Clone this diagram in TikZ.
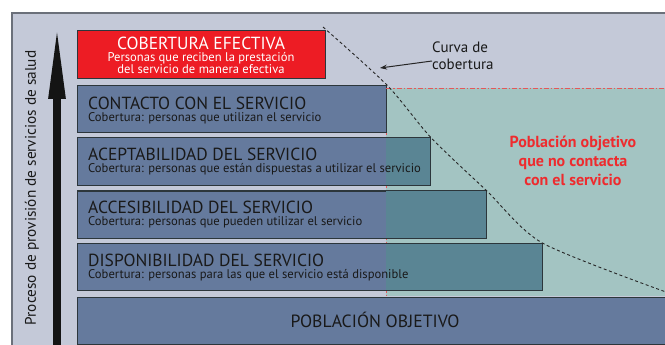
\documentclass[tikz,border=0pt]{standalone}
\usepackage{fontspec}
\setmainfont{PT Sans}
\usetikzlibrary{arrows.meta,calc}
\definecolor{bgc}{HTML}{C4C9D8}
\definecolor{boxblue}{HTML}{657A9D}
\definecolor{tealbg}{HTML}{A3C4C2}
\definecolor{tealdark}{HTML}{5A8594}
\definecolor{effred}{HTML}{ED1C24}
\definecolor{edge}{HTML}{2C363B}
\definecolor{redline}{HTML}{E5575A}
\definecolor{redtext}{HTML}{EE2B2E}
\definecolor{framec}{HTML}{6B707A}
\newcommand{\hfnt}{\fontsize{17.5}{19}\selectfont}
\newcommand{\sfnt}{\fontsize{12.6}{12}\selectfont}
\tikzset{
  stagebox/.style={draw=edge, line width=0.9pt, fill=boxblue, anchor=north west, inner sep=0pt, minimum height=47pt},
  boxtxt/.style={anchor=north west, inner sep=0pt, align=left, text=black!90},
  reddash/.style={draw=redline, line width=0.8pt, dash pattern=on 5pt off 2pt on 1.5pt off 2pt},
  curvestyle/.style={draw=black!85, line width=0.9pt, dash pattern=on 3pt off 2.6pt},
}
\begin{document}
\begin{tikzpicture}[x=1pt,y=-1pt]
\useasboundingbox (0,0) rectangle (665,345);
% frame
\fill[white] (0,0) rectangle (665,345);
\path[fill=bgc, draw=framec, line width=1.3pt] (12,13) rectangle (670,350);
% teal region
\fill[tealbg] (386,88) rectangle (666,296);
% red boundary lines
\coordinate (rl1) at (386,88);
\coordinate (rl2) at (666,88);
\coordinate (rl3) at (386,296);
\draw[reddash] (rl1) -- (rl3);
% boxes
\node[stagebox, fill=effred, minimum width=248pt, minimum height=48pt] (eff) at (77,30) {};
\node[stagebox, minimum width=309pt] (contact) at (77,85) {};
\node[stagebox, minimum width=353pt] (accept) at (77,137.5) {};
\node[stagebox, minimum width=408.5pt] (access) at (77,190.5) {};
\node[stagebox, minimum width=464.5pt] (dispon) at (77,243) {};
\node[stagebox, minimum width=600pt] (pob) at (77,296.5) {};
% darker overlap
\begin{scope}
\clip (386,0) rectangle (666,345);
\foreach \b in {contact,accept,access,dispon}{
  \fill[tealdark] (\b.south west) rectangle (\b.north east);
}
\end{scope}
\foreach \b in {contact,accept,access,dispon}{
  \draw[edge, line width=0.9pt] (\b.south west) rectangle (\b.north east);
}
\draw[reddash] (rl1) -- (rl2);
% vertical arrow
\coordinate (arrB) at (57,346);
\coordinate (arrT) at (57,19);
\draw[line width=8.5pt, black!92, -{Triangle[length=80pt,width=15pt]}] (arrB) -- (arrT);
\node[rotate=90, font=\fontsize{15.3}{17}\selectfont, text=black!90] (proc) at (32,188) {Proceso de provisión de servicios de salud};
% texts in boxes
\node[anchor=north, inner sep=0pt, align=center, text=white] (effT) at (201,36.6) {\hfnt COBERTURA EFECTIVA\\[0pt]\sfnt Personas que reciben la prestación\\\sfnt del servicio de manera efectiva};
\node[boxtxt] (cT) at ($(contact.north west)+(11,11.6)$) {\hfnt CONTACTO CON EL SERVICIO\\\sfnt Cobertura: personas que utilizan el servicio};
\node[boxtxt] (aT) at ($(accept.north west)+(11,10.6)$) {\hfnt ACEPTABILIDAD DEL SERVICIO\\\sfnt Cobertura: personas que están dispuestas a utilizar el servicio};
\node[boxtxt] (xT) at ($(access.north west)+(11,10.6)$) {\hfnt ACCESIBILIDAD DEL SERVICIO\\\sfnt Cobertura: personas que pueden utilizar el servicio};
\node[boxtxt] (dT) at ($(dispon.north west)+(11,10.6)$) {\hfnt DISPONIBILIDAD DEL SERVICIO\\\sfnt Cobertura: personas para las que el servicio está disponible};
\node[anchor=base, inner sep=0pt, font=\fontsize{17.7}{19}\selectfont, text=black!90] (pT) at (375,327) {POBLACIÓN OBJETIVO};
% red label
\node[align=center, inner sep=0pt, text=redtext, font=\bfseries\fontsize{16}{19}\selectfont] (lab) at (573,161) {Población objetivo\\que no contacta\\con el servicio};
% coverage curve
\coordinate (cstart) at (323,27);
\coordinate (cend) at (666,292);
\draw[curvestyle] plot[smooth, tension=0.45] coordinates {(cstart) (contact.north east) (accept.north east) (access.north east) (dispon.north east) (cend)};
% curve label
\node[align=left, anchor=north west, inner sep=0pt, font=\fontsize{15}{17}\selectfont, text=black!90] (curva) at (432,42) {Curva de\\cobertura};
\coordinate (ctip) at (380,68);
\draw[black!85, line width=1pt, -{Stealth[length=7pt,width=5pt]}] (curva.west |- 0,61) -- (ctip);
\end{tikzpicture}
\end{document}
